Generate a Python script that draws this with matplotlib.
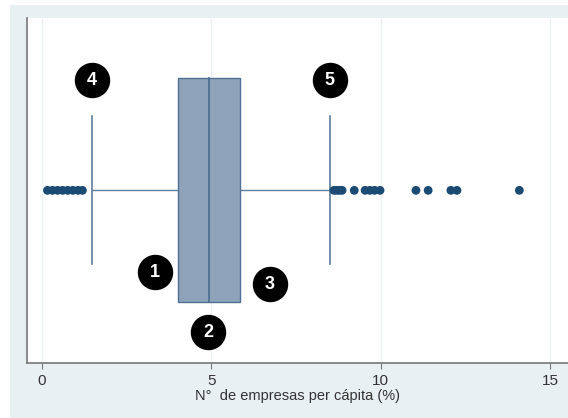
import matplotlib
matplotlib.use("Agg")
import matplotlib.pyplot as plt
from matplotlib.patches import Rectangle
import numpy as np

plt.rcParams['font.family'] = ['Liberation Sans', 'DejaVu Sans']

# Box plot summary (% firms per capita)
q1 = 4.02
median = 4.94
q3 = 5.85
whisker_low = 1.48
whisker_high = 8.50

# Outlying observations
outliers_low = [0.17, 0.32, 0.47, 0.62, 0.77, 0.92, 1.07, 1.20]
outliers_high = [8.62, 8.70, 8.78, 8.86, 9.22, 9.54, 9.68, 9.82, 9.98,
                 11.04, 11.40, 12.07, 12.25, 14.09]

x_ticks = [0, 5, 10, 15]
x_label = "N°  de empresas per cápita (%)"

# Numbered callouts: label, x (data), y (axes height fraction)
callout_labels = ["1", "2", "3", "4", "5"]
callout_x = [3.35, 4.91, 6.73, 1.48, 8.50]
callout_y = [0.263, 0.089, 0.228, 0.82, 0.82]

fig = plt.figure(figsize=(5.68, 4.18), dpi=100)
fig.patch.set_facecolor('white')
W, H = 568, 418
bg = Rectangle((10 / W, 0), 1 - 10 / W, (H - 5) / H,
               transform=fig.transFigure, facecolor='#e9f0f2',
               edgecolor='none', zorder=-10)
fig.patches.append(bg)

left_px, right_px, top_px, bottom_px = 26.5, 568, 18, 362.7
ax = fig.add_axes([left_px / W, (H - bottom_px) / H,
                   (right_px - left_px) / W, (bottom_px - top_px) / H])
ax.set_zorder(1)
ax.set_facecolor('white')

px0, px_per_unit = 41.7, 33.9
ax.set_xlim((left_px - px0) / px_per_unit, (right_px - px0) / px_per_unit)
ax.set_ylim(0, 1)

box_color = '#8ea3b9'
edge_color = '#4f7092'
line_color = '#5d7d9b'
dot_color = '#1b4a73'

center = 0.5
box_half = 0.325
cap_half = 0.215

for t in x_ticks:
    ax.axvline(t, color='#edf2f4', lw=1.0, zorder=0)

# Whiskers
ax.plot([whisker_low, q1], [center, center], color=line_color, lw=1.0, zorder=2)
ax.plot([q3, whisker_high], [center, center], color=line_color, lw=1.0, zorder=2)
ax.plot([whisker_low, whisker_low], [center - cap_half, center + cap_half],
        color=line_color, lw=1.2, zorder=2)
ax.plot([whisker_high, whisker_high], [center - cap_half, center + cap_half],
        color=line_color, lw=1.2, zorder=2)

# Box split at the median
ax.add_patch(Rectangle((q1, center - box_half), q3 - q1, 2 * box_half,
                       facecolor=box_color, edgecolor=edge_color, lw=1.0, zorder=3))
ax.plot([median, median], [center - box_half, center + box_half],
        color=edge_color, lw=1.3, zorder=4)

# Outliers
all_out = outliers_low + outliers_high
ax.scatter(all_out, [center] * len(all_out), s=40, color=dot_color,
           edgecolors='none', zorder=5)

# Callouts
for lab, cx, cy in zip(callout_labels, callout_x, callout_y):
    ax.scatter([cx], [cy], s=600, color='black', zorder=6)
    ax.text(cx, cy, lab, color='white', fontsize=13, fontweight='bold',
            ha='center', va='center', zorder=7)

ax.set_xticks(x_ticks)
ax.set_xticklabels([str(t) for t in x_ticks], fontsize=11, color='#333333')
ax.tick_params(axis='x', length=4, color='#777777', pad=4)
ax.set_yticks([])
ax.set_xlabel(x_label, fontsize=10.5, color='#333333', labelpad=1)

for s in ['top', 'right']:
    ax.spines[s].set_visible(False)
for s in ['left', 'bottom']:
    ax.spines[s].set_color('#777777')
    ax.spines[s].set_linewidth(1.2)

fig.savefig('out.png', dpi=100, facecolor=fig.get_facecolor())
